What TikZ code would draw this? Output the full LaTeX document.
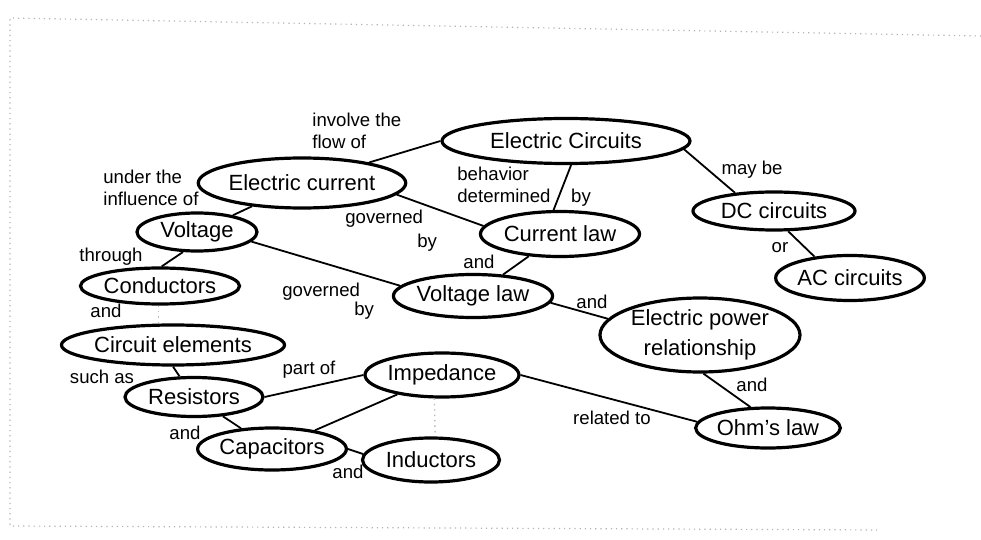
\documentclass[tikz,border=0pt]{standalone}
\usepackage{fontspec}
\setmainfont{Liberation Sans}
\usetikzlibrary{shapes.geometric}

\begin{document}
\begin{tikzpicture}[
    x=0.5pt, y=-0.5pt,
    concept/.style={
        draw, ellipse, line width=1.6pt,
        inner sep=0pt, align=center,
        font=\fontsize{11}{15}\selectfont
    },
    linkword/.style={
        inner sep=0pt, align=left,
        font=\fontsize{9.3}{11}\selectfont
    },
    link/.style={line width=0.9pt},
    faintlink/.style={gray!55, dotted, line width=0.7pt},
    frame/.style={gray!60, dotted, line width=0.6pt},
]

\useasboundingbox (0,0) rectangle (981,540);

% Scanned page frame
\coordinate (fa) at (10,18);
\coordinate (fb) at (981,36);
\coordinate (fc) at (10,526);
\coordinate (fd) at (880,530);
\draw[frame] (fb) -- (fa) -- (fc) -- (fd);

% Concepts
\node[concept, minimum width=124pt, minimum height=22.5pt] (circuits) at (566,141) {Electric Circuits};
\node[concept, minimum width=101.5pt, minimum height=25pt] (current) at (302,183) {Electric current};
\node[concept, minimum width=60pt, minimum height=19pt] (voltage) at (197,232) {Voltage};
\node[concept, minimum width=75pt, minimum height=18pt] (conductors) at (160,286) {Conductors};
\node[concept, minimum width=96.5pt, minimum height=20pt] (elements) at (173,345) {Circuit elements};
\node[concept, minimum width=69pt, minimum height=19.5pt] (resistors) at (194,397) {Resistors};
\node[concept, minimum width=69.5pt, minimum height=21pt] (capacitors) at (272,449) {Capacitors};
\node[concept, minimum width=68.5pt, minimum height=22pt] (inductors) at (431,460) {Inductors};
\node[concept, minimum width=72.5pt, minimum height=22pt] (impedance) at (442,375) {Impedance};
\node[concept, minimum width=75pt, minimum height=22.5pt] (curlaw) at (560,234) {Current law};
\node[concept, minimum width=73.5pt, minimum height=21.5pt] (voltlaw) at (473,296) {Voltage law};
\node[concept, minimum width=100pt, minimum height=37pt] (power) at (700,335) {Electric power\\relationship};
\node[concept, minimum width=63.5pt, minimum height=20pt] (ohm) at (768,428) {Ohm's law};
\node[concept, minimum width=81pt, minimum height=19pt] (dc) at (774,211) {DC circuits};
\node[concept, minimum width=70pt, minimum height=22.5pt] (ac) at (850,278) {AC circuits};

% Links
\draw[link] (current.17) -- (circuits.west);
\draw[link] (current) -- (voltage);
\draw[link] (voltage.235) -- (conductors.85);
\draw[faintlink] (conductors.265) -- (conductors.265 |- elements.north);
\draw[link] (elements.south) -- (resistors.125);
\draw[link] (resistors.east) -- (impedance.west);
\draw[link] (resistors) -- (capacitors);
\draw[link] (capacitors) -- (impedance);
\draw[link] (capacitors.east) -- (inductors.175);
\draw[faintlink] (impedance.252) -- (inductors.80);
\draw[link] (impedance.east) -- (ohm.175);
\draw[link] (current.-7) -- (curlaw.174);
\draw[link] (circuits.-78) -- (curlaw.105);
\draw[link] (curlaw) -- (voltlaw);
\draw[link] (voltage.-10) -- (voltlaw.172);
\draw[link] (voltlaw.-5) -- (power.170);
\draw[link] (circuits.-4) -- (dc.155);
\draw[link] (dc.-55) -- (ac.149);
\draw[link] (power.-85) -- (ohm.130);

% Linking words
\node[linkword, anchor=west] (involve) at (312,131) {involve the\\flow of};
\node[linkword, anchor=west] (influence) at (103,188) {under the\\influence of};
\node[linkword, anchor=west] (behavior) at (457,185) {behavior\\determined};
\node[linkword] (bycirc) at (581,198) {by};
\node[linkword, anchor=west] (govcur) at (345,231) {governed\\[1pt]\hspace*{36pt}by};
\node[linkword] (through) at (111,257) {through};
\node[linkword] (andcond) at (106,311) {and};
\node[linkword, anchor=west] (govvolt) at (282,301) {governed\\[-1.5pt]\hspace*{36pt}by};
\node[linkword] (andlaws) at (479,262) {and};
\node[linkword] (andpower) at (592,302) {and};
\node[linkword] (maybe) at (752,170) {may be};
\node[linkword] (or) at (780,248) {or};
\node[linkword] (andohm) at (752,385) {and};
\node[linkword] (related) at (612,418) {related to};
\node[linkword] (suchas) at (102,377) {such as};
\node[linkword] (partof) at (309,370) {part of};
\node[linkword] (andcap) at (185,433) {and};
\node[linkword] (andind) at (348,472) {and};

\end{tikzpicture}
\end{document}
